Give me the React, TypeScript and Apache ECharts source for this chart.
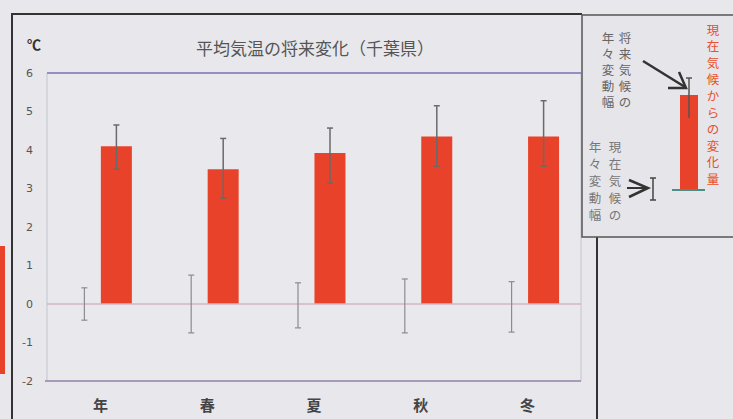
import React, { useEffect, useRef } from "react";
import * as echarts from "echarts";

const categories = ["年", "春", "夏", "秋", "冬"];
const changeValues = [4.1, 3.5, 3.92, 4.35, 4.35];
const futureLow = [3.5, 2.75, 3.14, 3.58, 3.58];
const futureHigh = [4.65, 4.3, 4.57, 5.15, 5.28];
const presentLow = [-0.42, -0.75, -0.62, -0.75, -0.73];
const presentHigh = [0.42, 0.75, 0.55, 0.65, 0.58];
const yTicks = [-2, -1, 0, 1, 2, 3, 4, 5, 6];

const RED = "#e8432a";
const BG = "#e8e7eb";

function errorSeries(low: number[], high: number[], offset: number, color: string, width: number, cap: number) {
  return {
    type: "custom",
    silent: true,
    z: 5,
    data: low.map((l, i) => [i, l, high[i]]),
    encode: { x: 0, y: [1, 2] },
    renderItem: (params: any, api: any) => {
      const i = api.value(0);
      const pLo = api.coord([i, api.value(1)]);
      const pHi = api.coord([i, api.value(2)]);
      const x = pLo[0] + offset;
      const style = { stroke: color, lineWidth: width };
      return {
        type: "group",
        children: [
          { type: "line", shape: { x1: x, y1: pLo[1], x2: x, y2: pHi[1] }, style },
          { type: "line", shape: { x1: x - cap, y1: pHi[1], x2: x + cap, y2: pHi[1] }, style },
          { type: "line", shape: { x1: x - cap, y1: pLo[1], x2: x + cap, y2: pLo[1] }, style },
        ],
      };
    },
  };
}

export default function App() {
  const ref = useRef<HTMLDivElement>(null);
  useEffect(() => {
    if (!ref.current) return;
    const chart = echarts.init(ref.current, undefined, { renderer: "svg" });
    const font = "'Noto Sans CJK JP', 'Noto Sans', sans-serif";
    const vFont = "'DejaVu Sans', 'Noto Sans CJK JP', sans-serif";
    const vText = (text: string, x: number, y: number, step: number, fill: string, size = 12.5) =>
      text.split("").map((ch, k) => ({
        type: "text",
        x,
        y: y + k * step,
        style: { text: ch, fontSize: size, fill, align: "center", verticalAlign: "middle", fontFamily: vFont },
      }));
    chart.setOption({
      animation: false,
      backgroundColor: BG,
      textStyle: { fontFamily: font },
      grid: {
        left: 47,
        top: 73,
        right: 152,
        bottom: 38,
        show: true,
        backgroundColor: "#e9e9ed",
        borderColor: "#c4c4ce",
        borderWidth: 1,
      },
      xAxis: {
        type: "category",
        data: categories,
        axisLine: { show: false, onZero: false },
        axisTick: { show: false },
        axisLabel: { color: "#444", fontSize: 15, fontWeight: "bold", margin: 16, fontFamily: font },
      },
      yAxis: {
        type: "value",
        min: -2,
        max: 6,
        interval: 1,
        axisLine: { show: false },
        axisTick: { show: false },
        splitLine: { show: false },
        axisLabel: {
          color: "#555",
          fontSize: 11,
          margin: 14,
          fontFamily: "'DejaVu Sans', sans-serif",
          formatter: (v: number) => (yTicks.includes(v) ? String(v) : ""),
        },
      },
      series: [
        {
          type: "bar",
          barWidth: 31,
          data: categories.map(() => 0),
          itemStyle: { color: "rgba(0,0,0,0)" },
          silent: true,
          markLine: {
            silent: true,
            symbol: "none",
            label: { show: false },
            lineStyle: { color: "#d6b2c6", width: 1.5, type: "solid" },
            data: [{ yAxis: 0 }],
          },
        },
        {
          type: "bar",
          barWidth: 31,
          barGap: "3%",
          data: changeValues,
          itemStyle: { color: RED },
          z: 3,
        },
        errorSeries(futureLow, futureHigh, 16, "#6a6a6a", 1.5, 3),
        errorSeries(presentLow, presentHigh, -16, "#8c8c8c", 1.2, 3),
      ],
      graphic: [
        // plot top/bottom colored borders
        { type: "line", shape: { x1: 47, y1: 73, x2: 581, y2: 73 }, style: { stroke: "#948ec4", lineWidth: 2 } },
        { type: "line", shape: { x1: 45, y1: 381, x2: 581, y2: 381 }, style: { stroke: "#a89ab8", lineWidth: 2 } },
        // outer frame
        { type: "line", shape: { x1: 12, y1: 14, x2: 582, y2: 14 }, style: { stroke: "#333", lineWidth: 2 } },
        { type: "line", shape: { x1: 12, y1: 13, x2: 12, y2: 419 }, style: { stroke: "#333", lineWidth: 2 } },
        { type: "line", shape: { x1: 597, y1: 237, x2: 597, y2: 419 }, style: { stroke: "#333", lineWidth: 2 } },
        // left red fragment
        { type: "rect", shape: { x: 0, y: 246, width: 5, height: 128 }, style: { fill: RED } },
        // unit
        { type: "text", left: 27, top: 37, style: { text: "℃", fontSize: 14, fontWeight: "bold", fill: "#333", fontFamily: font } },
        // title
        {
          type: "text",
          x: 315,
          y: 47,
          style: {
            text: "平均気温の将来変化（千葉県）",
            fontSize: 17,
            fill: "#555",
            align: "center",
            verticalAlign: "middle",
            fontFamily: font,
          },
        },
        // legend box
        { type: "rect", shape: { x: 582, y: 15, width: 160, height: 222 }, style: { fill: "#e6e5e9", stroke: "#555", lineWidth: 1.5 } },
        ...vText("将来気候の", 625, 38, 16, "#666"),
        ...vText("年々変動幅", 608, 38, 16, "#666"),
        ...vText("現在気候の", 615, 147, 17, "#777"),
        ...vText("年々変動幅", 595, 147, 17, "#777"),
        ...vText("現在気候からの変化量", 713, 30, 16.6, "#e8502e"),
        { type: "rect", shape: { x: 680, y: 95, width: 18, height: 95 }, style: { fill: RED } },
        { type: "line", shape: { x1: 672, y1: 190, x2: 705, y2: 190 }, style: { stroke: "#4f8c84", lineWidth: 2 } },
        { type: "line", shape: { x1: 689, y1: 78, x2: 689, y2: 118 }, style: { stroke: "#555", lineWidth: 1.5 } },
        { type: "line", shape: { x1: 686, y1: 78, x2: 692, y2: 78 }, style: { stroke: "#555", lineWidth: 1.5 } },
        // upper arrow
        { type: "line", shape: { x1: 643, y1: 61, x2: 685, y2: 87 }, style: { stroke: "#333", lineWidth: 2.5 } },
        { type: "polyline", shape: { points: [[679, 72], [686, 88], [668, 88]] }, style: { stroke: "#333", lineWidth: 2.5, fill: "none" } },
        // lower arrow
        { type: "line", shape: { x1: 627, y1: 188, x2: 648, y2: 188 }, style: { stroke: "#333", lineWidth: 2 } },
        { type: "polyline", shape: { points: [[629, 180], [648, 188], [629, 197]] }, style: { stroke: "#333", lineWidth: 2.5, fill: "none" } },
        // small present error bar
        { type: "line", shape: { x1: 653, y1: 178, x2: 653, y2: 200 }, style: { stroke: "#444", lineWidth: 1.5 } },
        { type: "line", shape: { x1: 650, y1: 178, x2: 656, y2: 178 }, style: { stroke: "#444", lineWidth: 1.5 } },
        { type: "line", shape: { x1: 650, y1: 200, x2: 656, y2: 200 }, style: { stroke: "#444", lineWidth: 1.5 } },
      ],
    });
    return () => chart.dispose();
  }, []);
  return <div ref={ref} style={{ position: "fixed", left: 0, top: 0, width: 733, height: 419 }} />;
}
